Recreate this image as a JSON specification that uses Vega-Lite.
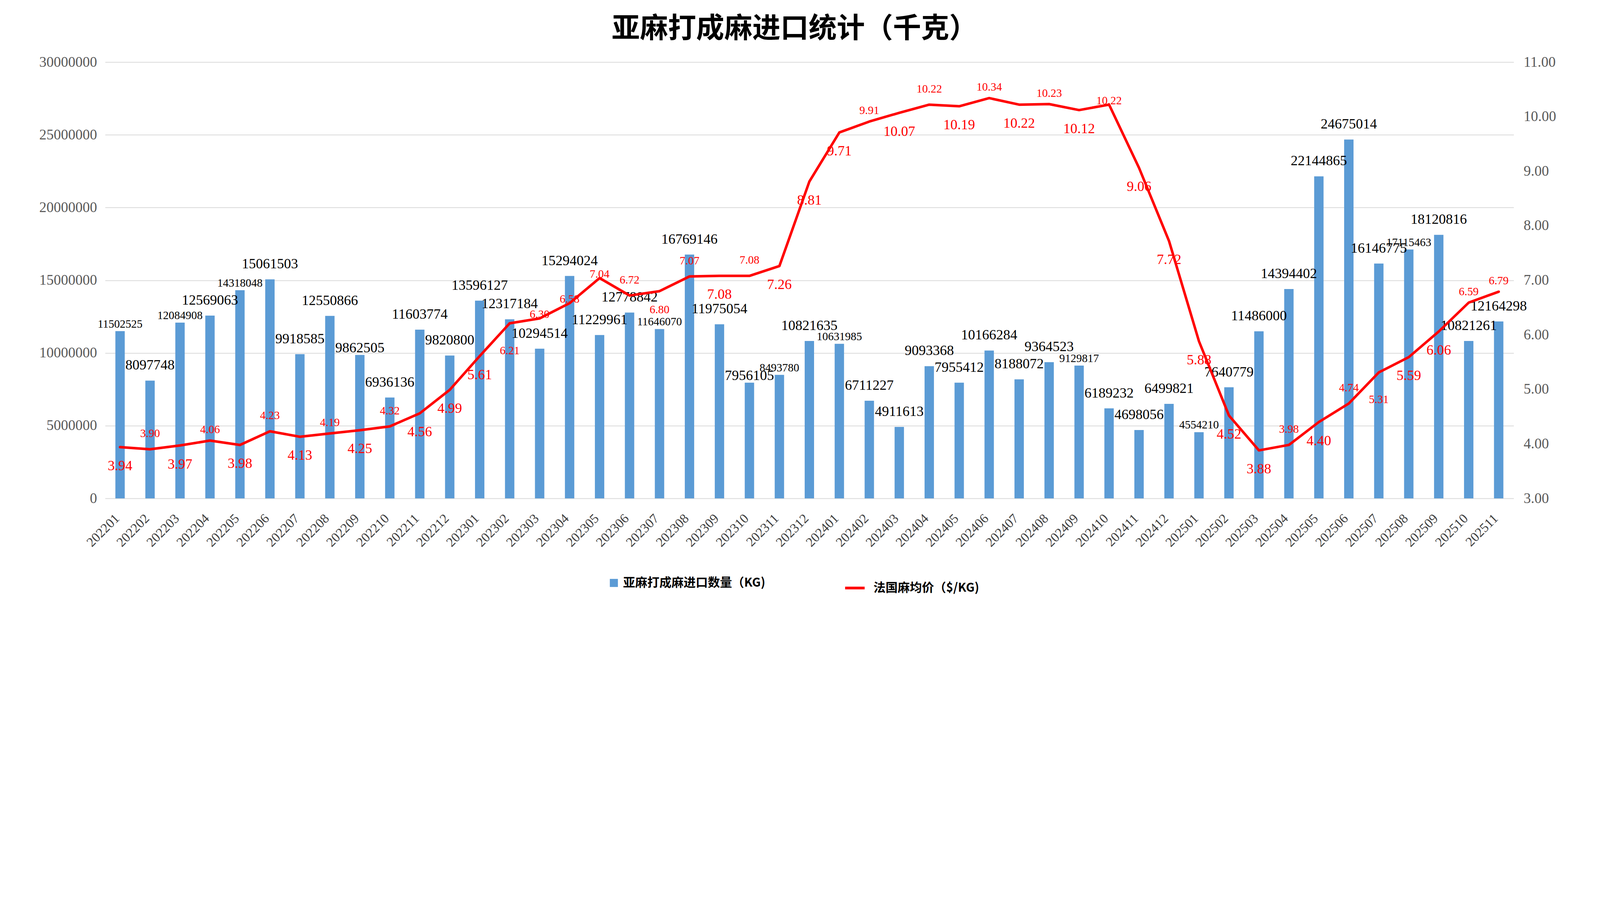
{
  "$schema": "https://vega.github.io/schema/vega-lite/v6.json",
  "autosize": {"type": "none"},
  "padding": {"left": 269, "top": 159, "right": 226, "bottom": 280},
  "width": 3606,
  "height": 1117,
  "background": "white",
  "title": {
    "text": "亚麻打成麻进口统计（千克）",
    "font": "Noto Sans CJK SC",
    "fontSize": 72,
    "fontWeight": "bold",
    "color": "black",
    "anchor": "middle",
    "dx": -38,
    "offset": 29
  },
  "data": {
    "values": [
      {"month": "202201", "volume": 11502525, "price": 3.94},
      {"month": "202202", "volume": 8097748, "price": 3.90},
      {"month": "202203", "volume": 12084908, "price": 3.97},
      {"month": "202204", "volume": 12569063, "price": 4.06},
      {"month": "202205", "volume": 14318048, "price": 3.98},
      {"month": "202206", "volume": 15061503, "price": 4.23},
      {"month": "202207", "volume": 9918585, "price": 4.13},
      {"month": "202208", "volume": 12550866, "price": 4.19},
      {"month": "202209", "volume": 9862505, "price": 4.25},
      {"month": "202210", "volume": 6936136, "price": 4.32},
      {"month": "202211", "volume": 11603774, "price": 4.56},
      {"month": "202212", "volume": 9820800, "price": 4.99},
      {"month": "202301", "volume": 13596127, "price": 5.61},
      {"month": "202302", "volume": 12317184, "price": 6.21},
      {"month": "202303", "volume": 10294514, "price": 6.30},
      {"month": "202304", "volume": 15294024, "price": 6.58},
      {"month": "202305", "volume": 11229961, "price": 7.04},
      {"month": "202306", "volume": 12778842, "price": 6.72},
      {"month": "202307", "volume": 11646070, "price": 6.80},
      {"month": "202308", "volume": 16769146, "price": 7.07},
      {"month": "202309", "volume": 11975054, "price": 7.08},
      {"month": "202310", "volume": 7956105, "price": 7.08},
      {"month": "202311", "volume": 8493780, "price": 7.26},
      {"month": "202312", "volume": 10821635, "price": 8.81},
      {"month": "202401", "volume": 10631985, "price": 9.71},
      {"month": "202402", "volume": 6711227, "price": 9.91},
      {"month": "202403", "volume": 4911613, "price": 10.07},
      {"month": "202404", "volume": 9093368, "price": 10.22},
      {"month": "202405", "volume": 7955412, "price": 10.19},
      {"month": "202406", "volume": 10166284, "price": 10.34},
      {"month": "202407", "volume": 8188072, "price": 10.22},
      {"month": "202408", "volume": 9364523, "price": 10.23},
      {"month": "202409", "volume": 9129817, "price": 10.12},
      {"month": "202410", "volume": 6189232, "price": 10.22},
      {"month": "202411", "volume": 4698056, "price": 9.06},
      {"month": "202412", "volume": 6499821, "price": 7.72},
      {"month": "202501", "volume": 4554210, "price": 5.88},
      {"month": "202502", "volume": 7640779, "price": 4.52},
      {"month": "202503", "volume": 11486000, "price": 3.88},
      {"month": "202504", "volume": 14394402, "price": 3.98},
      {"month": "202505", "volume": 22144865, "price": 4.40},
      {"month": "202506", "volume": 24675014, "price": 4.74},
      {"month": "202507", "volume": 16146775, "price": 5.31},
      {"month": "202508", "volume": 17115463, "price": 5.59},
      {"month": "202509", "volume": 18120816, "price": 6.06},
      {"month": "202510", "volume": 10821261, "price": 6.59},
      {"month": "202511", "volume": 12164298, "price": 6.79}
    ]
  },
  "encoding": {
    "x": {
      "field": "month",
      "type": "ordinal",
      "sort": null,
      "scale": {"paddingInner": 0.687, "paddingOuter": 0.3435},
      "axis": {
        "title": null,
        "labelAngle": -45,
        "labelAlign": "right",
        "labelBaseline": "middle",
        "labelFont": "Liberation Serif",
        "labelFontSize": 34,
        "labelColor": "#404040",
        "labelPadding": 46,
        "labelOffset": -7,
        "labelOverlap": false,
        "labelLimit": 0,
        "ticks": false,
        "domain": false,
        "grid": false
      }
    }
  },
  "layer": [
    {
      "encoding": {
        "y": {
          "field": "volume",
          "type": "quantitative",
          "scale": {"domain": [0, 30000000], "nice": false},
          "axis": {
            "orient": "left",
            "title": null,
            "values": [0, 5000000, 10000000, 15000000, 20000000, 25000000, 30000000],
            "format": "d",
            "grid": true,
            "gridColor": "#D9D9D9",
            "gridWidth": 2,
            "domain": false,
            "ticks": false,
            "labelFont": "Liberation Serif",
            "labelFontSize": 37,
            "labelColor": "#595959",
            "labelPadding": 21,
            "labelLimit": 0
          }
        }
      },
      "layer": [
        {
          "mark": {"type": "bar"},
          "encoding": {
            "fill": {
              "datum": "亚麻打成麻进口数量（KG)",
              "scale": {"range": ["#5B9BD5"]},
              "legend": {
                "orient": "none",
                "legendX": 1287,
                "legendY": 1318,
                "title": null,
                "padding": 0,
                "symbolType": "square",
                "symbolSize": 427,
                "symbolStrokeWidth": 0,
                "labelFont": "Noto Sans CJK SC",
                "labelFontSize": 31,
                "labelFontWeight": "bold",
                "labelColor": "black",
                "labelOffset": 8,
                "labelLimit": 0
              }
            }
          }
        },
        {
          "transform": [{"filter": {"not": {"field": "month", "oneOf": ["202201", "202203", "202205", "202209", "202307", "202310", "202311", "202401", "202409", "202501", "202508"]}}}],
          "mark": {"type": "text", "baseline": "middle", "dy": -39, "font": "Liberation Serif", "color": "black"},
          "encoding": {
            "text": {"field": "volume", "type": "quantitative", "format": "d"},
            "size": {"value": 36}
          }
        },
        {
          "transform": [{"filter": {"field": "month", "oneOf": ["202201", "202203", "202205", "202209", "202307", "202310", "202311", "202401", "202409", "202501", "202508"]}}],
          "mark": {"type": "text", "baseline": "middle", "dy": -18, "font": "Liberation Serif", "color": "black"},
          "encoding": {
            "text": {"field": "volume", "type": "quantitative", "format": "d"},
            "size": {
              "condition": {"test": "indexof(['202209', '202310'], datum.month) >= 0", "value": 36},
              "value": 29
            }
          }
        }
      ]
    },
    {
      "encoding": {
        "y": {
          "field": "price",
          "type": "quantitative",
          "scale": {"domain": [3, 11], "nice": false},
          "axis": {
            "orient": "right",
            "title": null,
            "values": [3, 4, 5, 6, 7, 8, 9, 10, 11],
            "format": ".2f",
            "grid": false,
            "domain": false,
            "ticks": false,
            "labelFont": "Liberation Serif",
            "labelFontSize": 37,
            "labelColor": "#595959",
            "labelPadding": 25,
            "labelLimit": 0
          }
        }
      },
      "layer": [
        {
          "mark": {"type": "line", "strokeWidth": 6.5, "strokeJoin": "round", "strokeCap": "round"},
          "encoding": {
            "stroke": {
              "datum": "法国麻均价（$/KG)",
              "scale": {"range": ["#FF0000"]},
              "legend": {
                "orient": "none",
                "legendX": 1891,
                "legendY": 1318,
                "title": null,
                "padding": 0,
                "symbolType": "stroke",
                "symbolSize": 2490,
                "symbolStrokeWidth": 7,
                "labelFont": "Noto Sans CJK SC",
                "labelFontSize": 31,
                "labelFontWeight": "bold",
                "labelColor": "black",
                "labelOffset": 19,
                "labelLimit": 0
              }
            }
          }
        },
        {
          "transform": [{"filter": {"field": "month", "oneOf": ["202201", "202203", "202205", "202207", "202209", "202211", "202212", "202301", "202307", "202309", "202311", "202312", "202401", "202403", "202405", "202407", "202409", "202411", "202412", "202501", "202502", "202503", "202505", "202508", "202509"]}}],
          "mark": {"type": "text", "baseline": "middle", "dy": 48, "font": "Liberation Serif", "color": "#FF0000"},
          "encoding": {
            "text": {"field": "price", "type": "quantitative", "format": ".2f"},
            "size": {
              "condition": {"test": "datum.month == '202307'", "value": 29},
              "value": 36
            }
          }
        },
        {
          "transform": [{"filter": {"field": "month", "oneOf": ["202302", "202507"]}}],
          "mark": {"type": "text", "baseline": "middle", "dy": 70, "font": "Liberation Serif", "color": "#FF0000", "fontSize": 29},
          "encoding": {
            "text": {"field": "price", "type": "quantitative", "format": ".2f"}
          }
        },
        {
          "transform": [{"filter": {"field": "month", "oneOf": ["202202", "202206", "202210", "202306", "202308", "202310", "202404", "202504", "202506"]}}],
          "mark": {"type": "text", "baseline": "middle", "dy": -40, "font": "Liberation Serif", "color": "#FF0000", "fontSize": 29},
          "encoding": {
            "text": {"field": "price", "type": "quantitative", "format": ".2f"}
          }
        },
        {
          "transform": [{"filter": {"field": "month", "oneOf": ["202204", "202208", "202402", "202406", "202408", "202510", "202511"]}}],
          "mark": {"type": "text", "baseline": "middle", "dy": -28, "font": "Liberation Serif", "color": "#FF0000", "fontSize": 29},
          "encoding": {
            "text": {"field": "price", "type": "quantitative", "format": ".2f"}
          }
        },
        {
          "transform": [{"filter": {"field": "month", "oneOf": ["202303", "202304", "202305", "202410"]}}],
          "mark": {"type": "text", "baseline": "middle", "dy": -10, "font": "Liberation Serif", "color": "#FF0000", "fontSize": 29},
          "encoding": {
            "text": {"field": "price", "type": "quantitative", "format": ".2f"}
          }
        }
      ]
    }
  ],
  "resolve": {"scale": {"y": "independent"}},
  "config": {
    "view": {"stroke": null},
    "legend": {"orient": "none"}
  }
}
